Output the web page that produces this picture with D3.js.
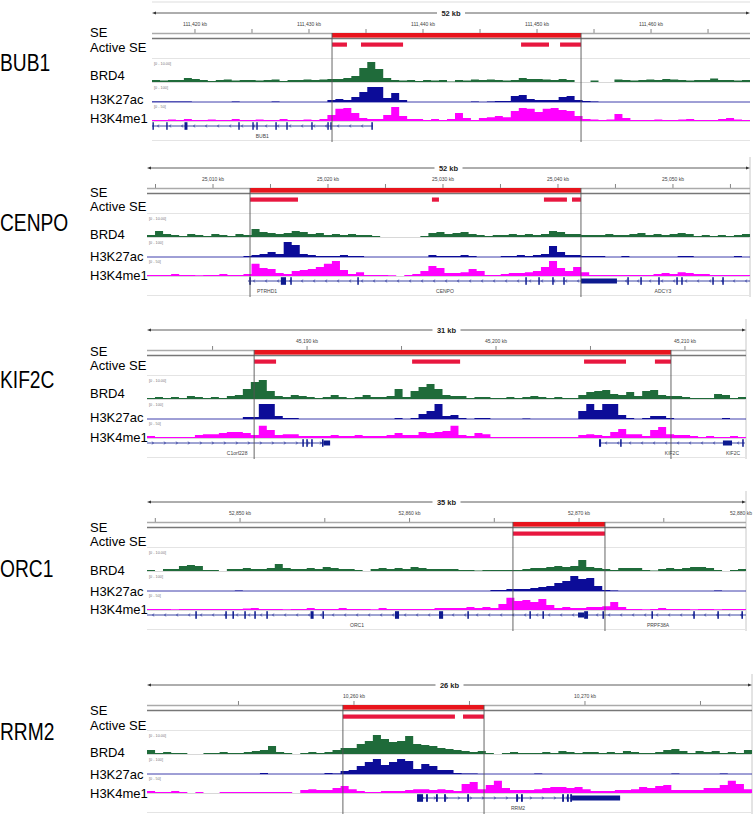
<!DOCTYPE html>
<html><head><meta charset="utf-8">
<script src="https://cdn.jsdelivr.net/npm/d3@7"></script>
<style>body{margin:0;background:#fff}svg{display:block}</style>
</head><body><svg id="c" width="753" height="816"></svg>
<script>
// ---------------- DATA ----------------
const geneNames = ["BUB1","CENPO","KIF2C","ORC1","RRM2"];
const viewStartKb = [111416.23, 25004.26, 45181.53, 52844.51, 10251.04];
const viewEndKb   = [111468.68, 25056.70, 45213.23, 52879.85, 10277.23];
const spanLabels = ["52 kb","52 kb","31 kb","35 kb","26 kb"];
const tickLabelKb = [
  [111420,111430,111440,111450,111460],
  [25010,25020,25030,25040,25050],
  [45190,45200,45210],
  [52850,52860,52870,52880],
  [10260,10270]
];
const seRegions = [[111432.02,111453.86],[25013.22,25042.0],[45187.2,45209.26],[52866.1,52871.53],[10259.52,10265.63]];
const activeSE = [
  [[111432.02,111433.33],[111434.56,111438.25],[111448.6,111451.05],[111452.02,111453.86]],
  [[25013.22,25017.39],[25029.04,25029.65],[25038.78,25040.78],[25041.22,25042.0]],
  [[45187.2,45188.36],[45195.56,45198.1],[45204.66,45206.88],[45208.41,45209.26]],
  [[52866.1,52871.53]],
  [[10259.52,10264.37],[10264.72,10265.63]]
];
const trackNames = ["BRD4","H3K27ac","H3K4me1"];
const trackMax = [10,100,50];
const trackRangeLabels = ["[0 - 10.00]","[0 - 100]","[0 - 50]"];

const brd4 = [
 [1,0.75,1,1,2,1.5, 1,0.5,1,1.25,0.75,1,1,0.75,1,1.25,0.5,1,1,1.25,1,1.25, 1.5,1.5,2, 3,7,10, 6.5,2, 1,0.75,1,0.5,1,0.75,1,0.25,1,0.75,1.25,1,1.25,1,0.75,1, 2,1.5,1.5,1.25,1,1.5,1, 0,0,0.75,0,0, 1.25,1,0.75,1,1.25,1,1.5,1.25,1,0.75,1,1,1.75,1,1,0.75,1],
 [1,3,1.5,1,0.5,1.5,1,0.5,1.5,1,0.5,1.5,1, 4,2.5,2,1.5,2,3,2.5,1.5,2,1,1.5,1,1.5,1,1,0.5, 0,0,0,0,0,0.5, 2,2.5,1.5,2,2.5,1.5,1,0.5, 1,1,1.5,1,1.5,1,1.5, 3,2.5, 1.5,1.5,1, 1,1,1.5,1,1,1.5,2,1,1.5,1,1.5,2,1.5,0.5,1,0.5,1,0.5,1,1.5],
 [0.5,1,0.5,1,0.5,1.5,1,0.5,1,0.5,1.5,2,5, 8.5,9.5,4,1.5, 1,2,1.5,1,0.5,1,2,1,0.5,1,2,1,1,1.5,5, 1,4,6,7.5,5,2,1.5,1.5, 0.5,1,1,0.5,0.5,1,0.5,1,1.5,1,0.5,1,0.5,0.5,2, 3.5,4,4.5,2.5,2,3.5, 1.5,4,4.5,2,1.5, 1.5,1,0.5,0.5,0.5,2.5,2,0.5,1],
 [0.5,0,1,1,2.5,3, 2.5,0.5,0.5,0,1,1,1.5,1,1,1.5, 3.5,1.5,1,1,1.5,1,2,1.5,1, 1,0.5,0,1,1.5,1,1.5,1,2, 1.5,1,1,1,1,0.5,0.5,0.25,0.5,0.5,0.5, 0.5,0.5,1,1.5,1.5,2,2.5,2,2.5,5.5,2, 1.5,1,0.5,1.5,1.5,1.5,0.5,0.25,1,1.5, 1,1.5,2,2,1.5,0.5,0,0.5,1],
 [2,0.5,1,0.5,0.5,0,0,0.5,0.5,1,0.5,0.5,1, 1.5,2,4,1,0.5,0,0.5,1,0.5, 1,2,3,3,5,6.5,9.5,7.5, 6,6.5,9,5,4.5,4,3, 2.5,2,1.5,1,1.5,0.5,0,0.5, 1,0.5,0.5,0.5,1,0.5,1.5,1,0.5,1,1, 0.5,1,0.5,1.5,1,0.5,0.5,1,2,2.5,1.5,0.5,1.5,1,1.5,0.5,1,0.5,2]
];
const h3k27ac = [
 [3,3,3,3,3,0,0,0,0,0,3,0,0,0,0,3,0,0,0,0,0,0, 12,19,12, 31,62,94, 94,25,56,12, 0,0,0,0,0,0,0,0,3,0,3, 6,6,38,44,19, 12,12,12, 31,38,12, 6,3, 0,0,0,0,0,0,0,0,0,0,0,0,0,0,0,0,0,0,0],
 [0,0,0,0,0,0,0,0,0,0,0,0,6, 12,19,31,19,94,75,19,12,6,6,6,12,6,6,0,0, 0,0,0,0,0,0, 12,6,6,6,12,6,0,0, 0,6,6,12,6,12,19, 69,31, 12,12,6, 6,6,0,0,6,0,0,0,0,0,0,6,6,0,0,0,0,0,6,0],
 [0,0,0,0,0,0,0,0,0,0,0,0,12, 12,94,94,19, 6,6,0,0,0,0,0,0,0,0,0,0,0,0,6, 0,6,31,50,94,19,25,6, 0,6,6,0,0,0,0,3,0,0,0,0,0,0,50, 94,56,94,94,25,6, 0,6,19,19,6, 0,0,0,0,0,0,6,0,0],
 [0,0,0,0,0,0,0,0,0,0,0,3,0,0,0,0,0,0,0,0,0,0,0,0,0,0,0,0,0,0,0,0,0,0,0,0,0,0,0,0,0,0,0,6,6, 12,12,12,19,25,31,50,62,94,75,81, 31,6,3,0,0,0,0,0,0,0, 0,0,0,0,0,3,0,0,0],
 [0,0,0,0,0,0,0,0,0,0,0,0,0, 0,6,0,0,0,0,0,0,0, 6,3,19,25,50,75,94,56, 75,94,81,31,62,50,25, 25,6,3,3,0,0,0,0, 0,0,0,3,0,0,0,0,0,0,0, 0,0,0,0,0,0,0,0,0,3,0,0,0,0,0,3,0,0,0]
];
const h3k4me1 = [
 [3,3,5,3,6,3,3,5,3,3,6,3,3,5,3,3,6,3,3,5,3,6, 19,38,41,25,9,6, 6,19,44,16, 6,6,3,6,3,6, 25,9, 3,9,12,16,12, 31,41,38,28,38,41,34,31,16, 6,5,3,5,22,9,3,3,3,5,3,3,5,6,3,3,3,6,9,5,3],
 [3,3,3,6,3,3,2,3,3,6,3,3,6, 38,25,22,9,6,16,19,22,28,38,47,19,6,12,3,3, 3,2,0,3,6,16,31,25,9,9,12,22,16,3, 3,6,9,9,12,16,28, 47,25,16,28,12, 3,3,3,3,3,3,3,3,6,9,6,12,9,6,6,3,3,3,3,3],
 [6,3,3,3,3,3,9,12,12,16,19,19,16, 9,38,25,9, 12,12,6,6,6,6,9,6,6,9,6,6,6,9,16, 9,9,19,16,19,22,38,9, 6,16,12,3,3,3,3,3,3,3,3,3,3,3,9, 12,9,6,19,28,12, 12,6,25,34,12, 9,9,6,3,6,3,3,6,3],
 [3,3,3,2,3,3,3,3,3,3,3,3,5,6,3,3,3,2,3,3,6,3,3,3,6,3,3,3,2,6,3,3,3,3,3,3,6,6,6,6,9,6,9,6,19, 38,28,31,25,34,16,6,9,6,6,9, 9,12,25,9,3,3,2,3,6,3, 3,3,2,3,3,2,3,3,3],
 [6,3,3,6,3,0,3,0,0,3,3,3,3, 3,3,3,3,3,0,9,12,9, 9,16,22,12,6,3,3,6, 6,6,9,12,12,9,12, 9,6,28,34,12,25,38,16, 9,9,9,12,16,19,19,16,19,12,6, 6,6,9,9,12,19,16,22,25,9,9,9,9,16,16,25,38,28,12]
];

const geneLines = [
  [[111416.23,111435.61,"-"]],
  [[25013.04,25056.7,"-"]],
  [[45181.53,45191.22,"+"],[45205.5,45213.17,"-"]],
  [[52844.51,52879.85,"-"]],
  [[10262.73,10271.52,"+"]]
];
const geneExons = [
  [[111416.27,111416.39],[111417.48,111417.6],[111419.08,111419.34],[111423.8,111423.92],[111425.03,111425.15],[111425.38,111425.5],[111427.05,111427.17],[111428.01,111428.13],[111430.2,111430.32],[111431.61,111431.73],[111431.87,111431.99],[111435.47,111435.6]],
  [[25013.15,25013.3],[25015.9,25016.35],[25016.72,25016.85],[25022.55,25022.68],[25037.16,25037.29],[25038.29,25038.42],[25039.5,25039.63],[25040.46,25040.59],[25046.03,25046.16],[25047.16,25047.29],[25048.72,25048.85],[25050.29,25050.42],[25050.72,25050.85],[25053.42,25053.55],[25054.29,25054.42]],
  [[45189.75,45189.83],[45189.96,45190.04],[45190.22,45190.3],[45190.79,45190.87],[45205.45,45205.56],[45206.57,45206.65],[45213.03,45213.11]],
  [[52847.36,52847.45],[52849.13,52849.22],[52849.55,52849.64],[52850.25,52850.34],[52850.84,52850.93],[52851.55,52851.64],[52854.16,52854.34],[52854.86,52854.95],[52859.14,52859.38],[52861.74,52861.98],[52863.41,52863.5],[52867.07,52867.16],[52867.84,52867.93],[52870.3,52870.53],[52871.38,52871.47],[52874.27,52874.36],[52876.74,52876.83],[52878.16,52878.25],[52879.58,52879.67]],
  [[10262.73,10262.99],[10263.12,10263.2],[10263.55,10263.63],[10263.9,10263.98],[10264.9,10264.98],[10267.02,10267.1],[10267.23,10267.31],[10269.01,10269.09],[10269.22,10269.3],[10269.36,10269.44]]
];
const geneUtrs = [
  [],
  [[25042.0,25045.13]],
  [[45190.87,45191.22],[45212.01,45212.49]],
  [[52869.94,52870.3]],
  [[10269.44,10271.52]]
];
const geneLabels = [
  [["BUB1",111425.9]],
  [["PTRHD1",25014.7],["CENPO",25030.17],["ADCY3",25049.13]],
  [["C1orf228",45186.3],["KIF2C",45209.31],["KIF2C",45212.54]],
  [["ORC1",52856.9],["PRPF38A",52874.66]],
  [["RRM2",10267.1]]
];

// ---------------- LAYOUT / STYLE ----------------
const layout = [
  {A:13,  x0:152, x1:750, nameY:71,  border:false, labelY:[37,52,80,104,123]},
  {A:168, x0:147, x1:750, nameY:231, border:true,  labelY:[197,211,239,261,280]},
  {A:330, x0:147, x1:746, nameY:388, border:true,  labelY:[356,370,398,422,442]},
  {A:502, x0:147, x1:746, nameY:577, border:true,  labelY:[532,546,575,596,614]},
  {A:685, x0:147, x1:752, nameY:740, border:true,  labelY:[715,730,757,779,798]}
];
const trackGeom = [ {top:49, base:69}, {top:73, base:89}, {top:92, base:108} ];
const trackColors = ["#1f6b3a","#0c0c98","#ff00ff"];
const seColor = "#e8141c", activeColor = "#e8173f", geneColor = "#0d1a8f";
const FONT = "'Liberation Sans', Arial, sans-serif";
const W = 753;

const svg = d3.select("#c");
const signals = [brd4, h3k27ac, h3k4me1];

layout.forEach((L, p) => {
  const A = L.A;
  const g = svg.append("g");
  const x = d3.scaleLinear().domain([viewStartKb[p], viewEndKb[p]]).range([L.x0, L.x1]);

  if (p === 0) g.append("line").attr("x1",L.x0).attr("x2",L.x1).attr("y1",A-11).attr("y2",A-11).attr("stroke","#ddd");
  if (L.border) g.append("line").attr("x1",L.x1).attr("x2",L.x1).attr("y1",A-11).attr("y2",A+129).attr("stroke","#c8c8c8");

  g.append("text").attr("transform",`translate(0,${L.nameY}) scale(0.8,1)`).attr("font-family",FONT)
    .attr("font-size",24).attr("fill","#000").text(geneNames[p]);
  ["SE","Active SE"].concat(trackNames).forEach((t,i)=>{
    g.append("text").attr("x",90).attr("y",L.labelY[i]).attr("font-family",FONT).attr("font-size",13).attr("fill","#000").text(t);
  });

  // ruler
  g.append("line").attr("x1",L.x0+3).attr("x2",L.x1-3).attr("y1",A).attr("y2",A).attr("stroke","#333").attr("stroke-width",0.8);
  g.append("path").attr("d",`M${L.x0},${A} l4,-1.6 v3.2 z`).attr("fill","#333");
  g.append("path").attr("d",`M${L.x1},${A} l-4,-1.6 v3.2 z`).attr("fill","#333");
  const mid = (L.x0+L.x1)/2;
  g.append("rect").attr("x",mid-14).attr("y",A-5).attr("width",28).attr("height",10).attr("fill","#fff");
  g.append("text").attr("x",mid).attr("y",A+2.5).attr("text-anchor","middle").attr("font-family",FONT)
    .attr("font-size",7.5).attr("font-weight","bold").attr("fill","#222").text(spanLabels[p]);

  const ticks = d3.range(Math.ceil(viewStartKb[p]/5)*5, viewEndKb[p], 5);
  ticks.forEach(t=>{
    g.append("line").attr("x1",x(t)).attr("x2",x(t)).attr("y1",A+16).attr("y2",A+20).attr("stroke","#666").attr("stroke-width",0.8);
  });
  tickLabelKb[p].forEach(t=>{
    const tx = x(t), overflow = tx + 12 > W;
    g.append("text").attr("x",overflow ? W-1 : tx).attr("y",A+13).attr("text-anchor",overflow ? "end" : "middle")
      .attr("font-family",FONT).attr("font-size",5).attr("fill","#444").text(d3.format(",")(t)+" kb");
  });

  // SE track
  g.append("line").attr("x1",L.x0).attr("x2",L.x1).attr("y1",A+20.5).attr("y2",A+20.5).attr("stroke","#aaa").attr("stroke-width",1.3);
  g.append("line").attr("x1",L.x0).attr("x2",L.x1).attr("y1",A+25.5).attr("y2",A+25.5).attr("stroke","#777").attr("stroke-width",1.3);
  const se = seRegions[p];
  g.append("rect").attr("x",x(se[0])).attr("y",A+20).attr("width",x(se[1])-x(se[0])).attr("height",4.6).attr("fill",seColor);
  activeSE[p].forEach(r=>{
    g.append("rect").attr("x",x(r[0])).attr("y",A+29.5).attr("width",x(r[1])-x(r[0])).attr("height",4.2).attr("fill",activeColor);
  });
  g.append("line").attr("x1",L.x0).attr("x2",L.x1).attr("y1",A+45.5).attr("y2",A+45.5).attr("stroke","#e4e4e4");

  // signal tracks
  signals.forEach((S, k)=>{
    const tg = trackGeom[k];
    const y = d3.scaleLinear().domain([0, trackMax[k]]).range([A+tg.base, A+tg.top]).clamp(true);
    const vals = S[p], n = vals.length, stepKb = (viewEndKb[p]-viewStartKb[p])/n;
    const pts = vals.map((v,i)=>[viewStartKb[p]+i*stepKb, v]);
    pts.push([viewEndKb[p], vals[n-1]]);
    if (k !== 1) g.append("line").attr("x1",L.x0).attr("x2",L.x1).attr("y1",A+tg.base+0.5).attr("y2",A+tg.base+0.5).attr("stroke","#d8d8d8");
    const area = d3.area().x(d=>x(d[0])).y0(y(0)).y1(d=>y(d[1])).curve(d3.curveStepAfter);
    g.append("path").attr("d",area(pts)).attr("fill",trackColors[k]);
    if (k === 1) g.append("line").attr("x1",L.x0).attr("x2",L.x1).attr("y1",A+tg.base).attr("y2",A+tg.base).attr("stroke",trackColors[1]).attr("stroke-width",0.8);
    g.append("text").attr("x",L.x0+2).attr("y",A+tg.top+2.5).attr("font-family",FONT).attr("font-size",3.8)
      .attr("fill","#777").text(trackRangeLabels[k]);
  });

  // gene track
  const gy = A+113;
  geneLines[p].forEach(l=>{
    const xa = x(l[0]), xb = x(l[1]);
    g.append("line").attr("x1",xa).attr("x2",xb).attr("y1",gy).attr("y2",gy).attr("stroke",geneColor).attr("stroke-width",0.8);
    const dir = l[2] === "+" ? 1 : -1;
    for (let cx = xa+6; cx < xb-3; cx += 12) {
      g.append("path").attr("d",`M${cx-dir*1.2},${gy-1.3} L${cx+dir*0.6},${gy} L${cx-dir*1.2},${gy+1.3}`)
        .attr("fill","none").attr("stroke",geneColor).attr("stroke-width",0.6);
    }
  });
  geneUtrs[p].forEach(u=>{
    g.append("rect").attr("x",x(u[0])).attr("y",gy-2.5).attr("width",Math.max(1,x(u[1])-x(u[0]))).attr("height",5).attr("fill",geneColor);
  });
  geneExons[p].forEach(e=>{
    g.append("rect").attr("x",x(e[0])).attr("y",gy-3.8).attr("width",Math.max(1.4,x(e[1])-x(e[0]))).attr("height",7.6).attr("fill",geneColor);
  });
  geneLabels[p].forEach(lb=>{
    g.append("text").attr("x",x(lb[1])).attr("y",gy+12).attr("text-anchor","middle").attr("font-family",FONT)
      .attr("font-size",5).attr("fill","#444").text(lb[0]);
  });
  g.append("line").attr("x1",L.x0).attr("x2",L.x1).attr("y1",A+127.5).attr("y2",A+127.5).attr("stroke","#e4e4e4");

  se.forEach(s=>{
    g.append("line").attr("x1",x(s)).attr("x2",x(s)).attr("y1",A+20).attr("y2",A+129).attr("stroke","#555").attr("stroke-width",0.9);
  });
});
</script>
</body></html>
